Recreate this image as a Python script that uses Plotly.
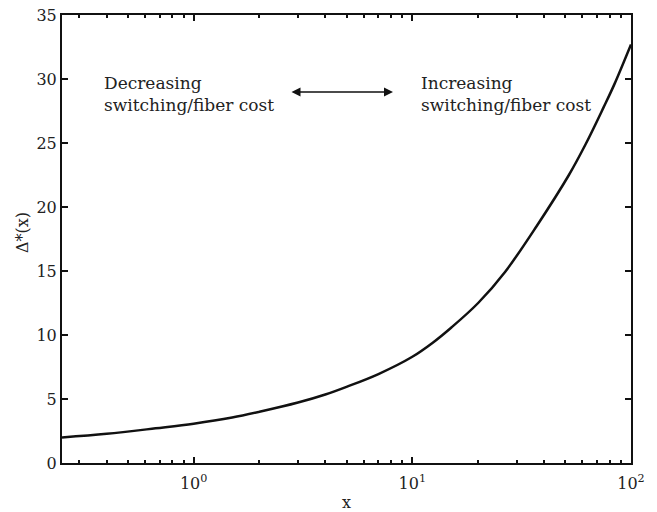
import plotly.graph_objects as go

# Data
x_vals = [0.25, 0.4, 0.67, 1.0, 1.5, 2.0, 3.0, 4.0, 5.0, 7.0, 10.0, 12.4, 15.0, 20.0, 26.6, 37.0, 52.0, 62.0, 75.0, 84.0, 100.0]
y_vals = [2.0, 2.28, 2.71, 3.07, 3.55, 4.0, 4.72, 5.35, 5.95, 6.95, 8.3, 9.4, 10.55, 12.5, 14.95, 18.5, 22.5, 24.9, 27.8, 29.6, 32.7]

x_major_ticks = [1, 10, 100]
x_major_labels = ["10<sup>0</sup>", "10<sup>1</sup>", "10<sup>2</sup>"]
x_minor_ticks = [0.3, 0.4, 0.5, 0.6, 0.7, 0.8, 0.9,
                 2, 3, 4, 5, 6, 7, 8, 9,
                 20, 30, 40, 50, 60, 70, 80, 90]
y_ticks = [0, 5, 10, 15, 20, 25, 30, 35]

FONT = "DejaVu Serif"
TXT = "#222222"

fig = go.Figure()
fig.add_trace(go.Scatter(x=x_vals, y=y_vals, mode="lines",
                         line=dict(color="#111111", width=2.5, shape="spline", smoothing=1.0),
                         showlegend=False, hoverinfo="skip"))

W, H = 657, 512
PL, PR, PT, PB = 62, 631, 15, 463  # plot box in screen pixels
L, R, T, B = PL, W - PR, PT, H - PB
pw, ph = PR - PL, PB - PT

def px(xp):
    return (xp - PL) / pw

def py(yp):
    return (PB - yp) / ph

fig.update_layout(
    width=W, height=H,
    margin=dict(l=L, r=R, t=T, b=B, pad=0),
    paper_bgcolor="white", plot_bgcolor="white",
    font=dict(family=FONT, size=16, color=TXT),
    hovermode=False,
    xaxis=dict(type="log", range=[-0.60206, 2], showgrid=False, zeroline=False,
               automargin=False, ticklabeloverflow="allow", ticklabelstandoff=5,
               showline=True, linecolor="#111111", linewidth=2, mirror="ticks",
               ticks="inside", ticklen=6, tickwidth=1.5, tickcolor="#111111",
               tickvals=x_major_ticks, ticktext=x_major_labels,
               tickfont=dict(family=FONT, size=16, color=TXT),
               minor=dict(tickvals=x_minor_ticks, ticks="inside", ticklen=3,
                          tickwidth=1.5, tickcolor="#111111", showgrid=False)),
    yaxis=dict(range=[0, 35], showgrid=False, zeroline=False,
               automargin=False, ticklabeloverflow="allow",
               showline=True, linecolor="#111111", linewidth=2, mirror="ticks",
               ticks="inside", ticklen=6, tickwidth=1.5, tickcolor="#111111",
               tickvals=y_ticks, ticktext=[str(v) for v in y_ticks],
               tickfont=dict(family=FONT, size=16, color=TXT)),
)

fig.add_annotation(text="x", xref="paper", yref="paper", x=px(346), y=py(503),
                   xanchor="center", yanchor="middle",
                   showarrow=False, font=dict(family=FONT, size=16, color=TXT))
fig.add_annotation(text="Δ*(x)", xref="paper", yref="paper", x=px(22), y=py(233),
                   xanchor="center", yanchor="middle",
                   showarrow=False, textangle=-90,
                   font=dict(family=FONT, size=16, color=TXT))

fig.add_annotation(text="Decreasing<br>switching/fiber cost", xref="paper", yref="paper",
                   x=px(102), y=py(94), xanchor="left", yanchor="middle", align="left",
                   showarrow=False, font=dict(family=FONT, size=17, color=TXT))
fig.add_annotation(text="Increasing<br>switching/fiber cost", xref="paper", yref="paper",
                   x=px(419), y=py(94), xanchor="left", yanchor="middle", align="left",
                   showarrow=False, font=dict(family=FONT, size=17, color=TXT))

fig.add_annotation(text="", xref="paper", yref="paper", x=px(393), y=py(92),
                   axref="pixel", ayref="pixel", ax=-103, ay=0,
                   showarrow=True, arrowhead=2, startarrowhead=2, arrowside="end+start",
                   arrowsize=1.2, arrowwidth=1.5, arrowcolor="#111111")

fig.write_html("out.html", config={"displayModeBar": False},
               post_script="document.body.style.margin='0';document.body.style.overflow='hidden';")
